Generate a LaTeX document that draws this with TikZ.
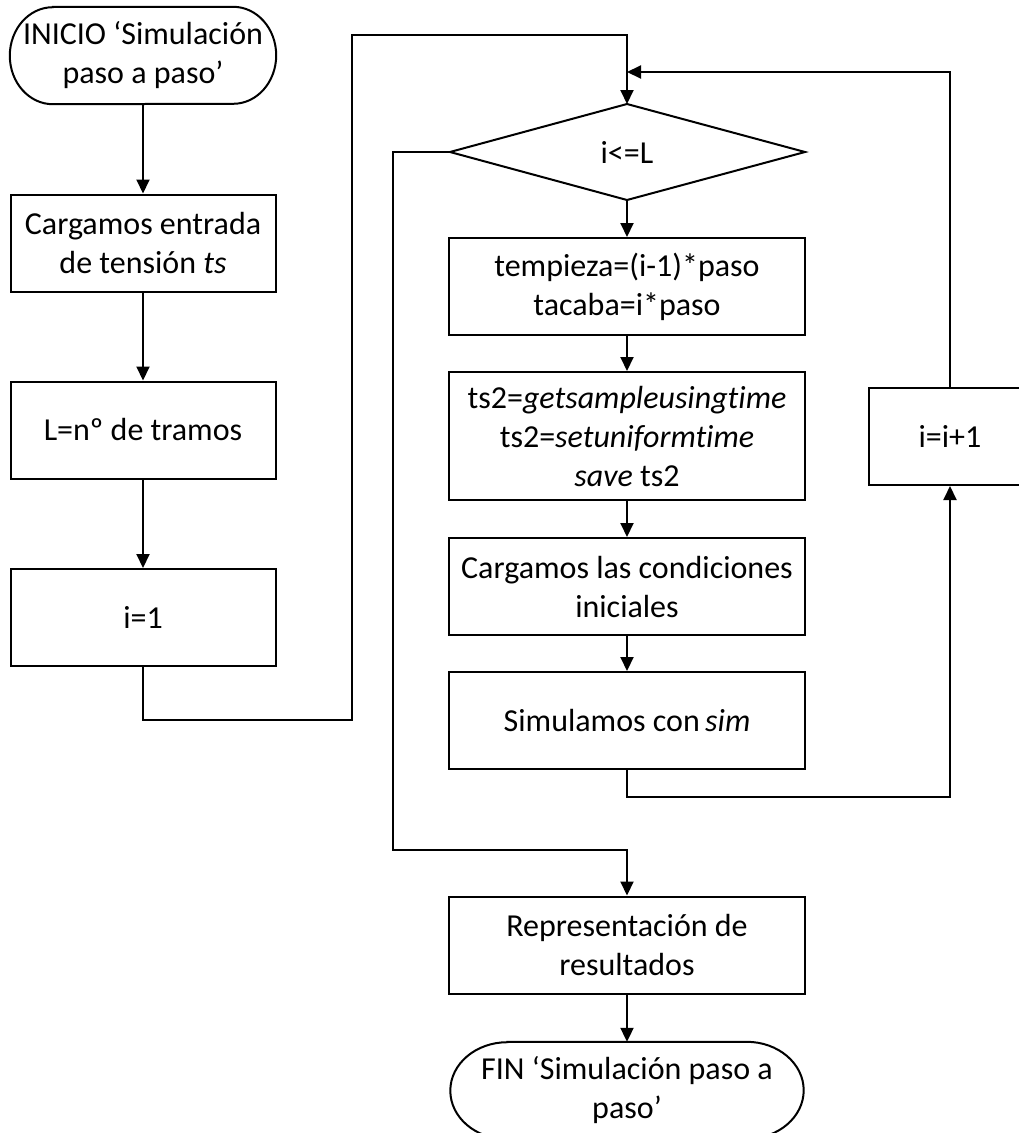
\documentclass[tikz,border=0pt]{standalone}
\usepackage{fontspec}
\setmainfont{Carlito}[Ligatures=NoCommon]
\usetikzlibrary{arrows.meta}
\begin{document}
\begin{tikzpicture}[x=1pt,y=-1pt,
  every node/.style={font=\fontsize{32}{39}\selectfont, align=center, inner sep=0pt},
  box/.style={draw, line width=2pt, minimum width=#1, minimum height=97},
  box/.default=265,
  termbase/.style={minimum width=#1, minimum height=97},
  conn/.style={line width=2pt},
  arr/.style={conn, -{Triangle[length=14pt,width=13pt]}},
]
\useasboundingbox (0,0) rectangle (1018,1133);

% terminator outline with elliptical ends (#2 = horizontal radius)
\newcommand{\termoutline}[2]{%
  \draw[line width=2pt] ([xshift=#2]#1.north west) -- ([xshift=-#2]#1.north east)
    arc[start angle=90, end angle=-90, x radius=#2, y radius=48.5pt]
    -- ([xshift=#2]#1.south west)
    arc[start angle=270, end angle=90, x radius=#2, y radius=48.5pt] -- cycle;}

% left column
\node[termbase=266] (ini) at (143,55.5) {INICIO ‘Simulación\\paso a paso’};
\termoutline{ini}{43pt}
\node[box] (ent) at (143,243) {Cargamos entrada\\de tensión \textit{ts}};
\node[box] (tram) at (143,430) {L=nº de tramos};
\node[box] (ini1) at (143,617.5) {i=1};

% decision diamond
\coordinate (dl) at (450,152);
\coordinate (dtop) at (627,104);
\coordinate (dright) at (805,152);
\coordinate (dbot) at (627,200);
\draw[line width=2pt] (dl) -- (dtop) -- (dright) -- (dbot) -- cycle;
\node (cond) at (627,152) {i<=L};

% loop body
\node[box=356] (tiem) at (627,286.5) {tempieza=(i-1)*paso\\tacaba=i*paso};
\node[box=356, minimum height=128] (ts2) at (627,436) {ts2=\textit{getsampleusingtime}\\ts2=\textit{setuniformtime}\\\textit{save} ts2};
\node[box=356] (cini) at (627,586.5) {Cargamos las condiciones\\iniciales};
\node[box=356] (sim) at (627,720.5) {Simulamos con\,\textit{sim}};
\node[box=162] (inc) at (950,436.5) {i=i+1};

\node[box=356] (res) at (627,945) {Representación de\\resultados};
\node[termbase=353] (fin) at (627,1090.5) {FIN ‘Simulación paso a\\paso’};
\termoutline{fin}{57pt}

% connector corners
\coordinate (a1) at (143,720);
\coordinate (a2) at (352,720);
\coordinate (a3) at (352,35);
\coordinate (a4) at (627,35);
\coordinate (b1) at (627,797);
\coordinate (b2) at (950,797);
\coordinate (c1) at (950,72);
\coordinate (c2) at (627,72);
\coordinate (e1) at (393,152);
\coordinate (e2) at (393,850);
\coordinate (e3) at (627,850);

% connectors
\draw[arr] (ini.south) -- (ent.north);
\draw[arr] (ent.south) -- (tram.north);
\draw[arr] (tram.south) -- (ini1.north);
\draw[arr] (ini1.south) -- (a1) -- (a2) -- (a3) -- (a4) -- (dtop);
\draw[arr] (dbot) -- (tiem.north);
\draw[arr] (tiem.south) -- (ts2.north);
\draw[arr] (ts2.south) -- (cini.north);
\draw[arr] (cini.south) -- (sim.north);
\draw[arr] (sim.south) -- (b1) -- (b2) -- (inc.south);
\draw[arr] (inc.north) -- (c1) -- (c2);
\draw[arr] (dl) -- (e1) -- (e2) -- (e3) -- (res.north);
\draw[arr] (res.south) -- (fin.north);
\end{tikzpicture}
\end{document}
